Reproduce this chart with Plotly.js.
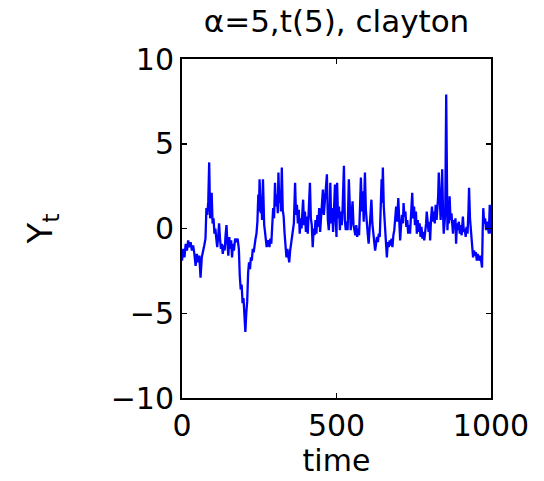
<!DOCTYPE html>
<html>
<head>
<meta charset="utf-8">
<script src="https://cdn.plot.ly/plotly-3.0.1.min.js"></script>
<style>html,body{margin:0;padding:0;background:#fff;}#chart{width:544px;height:481px;}</style>
</head>
<body>
<div id="chart"></div>
<script>
var chartTitle = "\u03b1=5,t(5), clayton";
var xLabel = "time";
var yLabel = "Y<sub>t</sub>";
var xTicks = [0, 500, 1000];
var yTicks = [-10, -5, 0, 5, 10];

var time = [
  0,4,8,12,16,20,24,28,32,36,40,44,48,52,56,60,64,68,72,76,
  79,82,85,88,91,94,
  96,99,102,105,108,111,114,117,120,123,126,129,132,135,138,141,144,147,150,153,156,159,162,165,168,
  172,176,180,184,
  187,190,193,196,199,202,205,208,211,214,217,220,223,226,229,232,235,
  238,241,244,247,249,251,253,255,257,259,262,264,266,268,271,274,277,
  280,283,286,289,292,295,298,301,304,307,
  310,312,315,318,320,323,326,329,332,335,
  338,341,344,347,350,353,356,359,362,366,
  369,372,375,378,381,384,387,390,392,395,
  398,401,404,407,410,414,417,420,423,426,
  429,432,435,438,441,444,447,450,453,456,
  459,462,465,469,472,475,478,
  480,483,486,489,492,495,498,500,502,505,
  508,511,514,517,520,524,527,530,533,536,
  540,543,546,549,552,555,558,561,564,567,
  570,573,576,579,582,585,588,592,595,598,
  601,604,607,610,613,616,619,622,625,628,
  631,634,637,640,643,646,648,650,653,656,
  659,663,666,669,672,675,678,681,684,687,
  690,693,696,700,703,706,709,712,715,717,
  720,723,726,729,732,735,738,741,745,748,
  751,754,757,760,763,766,769,772,775,778,
  781,784,787,790,792,795,798,801,803,806,
  809,812,815,818,821,824,827,829,831,834,
  837,840,842,845,847,850,852,855,857,859,
  862,864,866,869,872,875,877,880,883,885,
  887,890,893,896,899,902,905,909,912,915,
  918,921,924,927,929,932,935,937,940,942,
  945,948,951,954,957,960,963,966,969,971,
  973,975,978,981,984,987,990,993,996,998,1000
];

var Yt = [
  -1.9,-1.2,-1.7,-0.9,-1.3,-0.7,-1.1,-0.8,-1.3,-1.0,-1.5,-2.2,-1.5,-2.0,-1.6,-2.9,-1.7,-1.4,-1.0,-0.6,
  1.2,0.8,1.6,3.9,0.6,1.4,
  2.1,0.3,0.6,-0.3,0.0,-0.6,-1.1,-0.5,0.3,-0.6,-1.2,-0.9,-1.5,-1.0,-1.3,-0.4,0.2,-0.9,-1.6,-0.5,-1.2,-0.7,-1.7,-0.9,-1.3,
  -0.6,-0.8,-0.6,-1.2,
  -2.8,-3.6,-3.3,-4.4,-4.1,-5.4,-6.1,-5.0,-4.3,-2.6,-2.0,-2.4,-1.7,-1.9,-1.2,-1.4,-0.8,
  -0.6,-0.3,0.4,2.0,1.0,2.9,1.6,0.9,1.8,0.5,2.9,0.8,0.2,-0.1,-0.6,-1.1,-0.8,
  -0.7,-1.1,-0.6,-0.9,0.4,1.2,0.6,2.7,1.3,2.0,
  0.9,3.3,1.5,2.2,1.0,3.6,1.1,0.7,-0.3,-1.0,
  -1.7,-1.2,-1.6,-2.0,-1.3,-0.8,-0.5,-0.2,0.3,2.7,
  0.8,1.4,0.3,1.1,-0.3,0.6,0.0,1.1,1.7,0.2,
  1.0,-0.2,0.7,-0.3,1.2,2.7,0.6,0.2,-1.1,0.0,
  -0.4,0.5,-0.3,0.8,0.1,1.2,-0.2,0.6,1.3,2.3,
  0.8,1.6,2.0,3.2,0.5,-0.1,0.9,
  2.7,0.3,1.2,-0.2,0.9,2.6,0.4,-0.5,2.7,0.6,
  1.3,-0.1,1.0,0.2,1.3,3.7,0.5,-0.1,0.4,-0.1,
  2.9,1.3,-0.1,0.8,1.6,0.2,-0.1,-0.4,0.2,-0.5,
  0.0,-0.4,1.2,3.0,1.0,2.2,0.4,3.3,1.1,0.1,
  -0.3,-0.9,-0.2,0.6,1.7,0.3,-0.4,-0.8,-1.3,-0.9,
  -0.5,-0.8,-0.3,-0.5,1.2,2.9,1.5,3.6,1.3,0.4,
  0.0,-1.7,-0.8,-1.1,-0.7,-1.0,-0.6,-1.1,-0.4,-0.1,
  0.6,1.3,0.4,1.8,0.5,-0.7,0.2,0.8,0.3,1.5,
  0.7,1.0,0.1,0.5,-0.3,0.2,-0.3,0.6,2.1,0.6,
  1.3,0.2,1.0,-0.3,0.5,-0.2,0.3,-0.5,0.1,-0.6,
  -0.2,-0.7,-0.3,0.3,1.0,0.2,-0.2,0.4,-0.7,0.6,
  1.3,0.4,1.0,0.3,1.4,0.5,1.1,1.9,3.3,1.2,
  0.5,1.8,3.5,0.8,-0.3,0.4,1.0,7.9,0.5,-0.1,
  1.2,0.3,1.9,0.5,0.9,0.0,-0.3,0.5,0.1,0.6,
  -0.9,0.3,-0.1,0.4,-0.3,0.2,-0.4,0.7,-0.2,0.0,
  -0.5,0.1,-0.3,1.0,2.4,0.6,-0.3,-0.7,-1.2,-1.7,
  -1.3,-1.6,-1.4,-1.9,-1.5,-1.7,-1.9,-1.6,-2.0,-2.3,
  -0.2,1.2,0.3,0.6,-0.1,0.4,0.1,-0.3,1.4,0.2,-0.3
];

var fontFam = "DejaVu Sans, Liberation Sans, Arial, sans-serif";

var trace = {
  x: time, y: Yt, type: 'scatter', mode: 'lines',
  line: {color: '#0000ff', width: 2.3},
  hoverinfo: 'skip'
};

var axisCommon = {
  showline: true, linecolor: '#000', linewidth: 2,
  mirror: 'ticks', ticks: 'inside', ticklen: 5, tickwidth: 1.5, tickcolor: '#000',
  showgrid: false, zeroline: false,
  tickfont: {family: fontFam, size: 30, color: '#000'}
};

var layout = {
  width: 544, height: 481,
  margin: {l: 182, r: 53, t: 59, b: 83, pad: 0},
  paper_bgcolor: '#fff', plot_bgcolor: '#fff',
  showlegend: false,
  title: {text: chartTitle, font: {family: fontFam, size: 31, color: '#000'},
          x: 0.5, xref: 'paper', xanchor: 'center', y: 1 - 21/481, yref: 'container', yanchor: 'middle'},
  xaxis: Object.assign({}, axisCommon, {
    range: [0, 1000], tickmode: 'array', tickvals: xTicks, ticktext: xTicks.map(String),
    title: {text: xLabel, font: {family: fontFam, size: 30, color: '#000'}, standoff: 4}
  }),
  yaxis: Object.assign({}, axisCommon, {
    range: [-10, 10], tickmode: 'array', tickvals: yTicks,
    ticktext: yTicks.map(function(v){return v < 0 ? '\u2212' + Math.abs(v) : String(v);}),
    title: {text: yLabel, font: {family: fontFam, size: 34, color: '#000'}, standoff: 48}
  })
};

Plotly.newPlot('chart', [trace], layout, {displayModeBar: false, staticPlot: true});
</script>
</body>
</html>
